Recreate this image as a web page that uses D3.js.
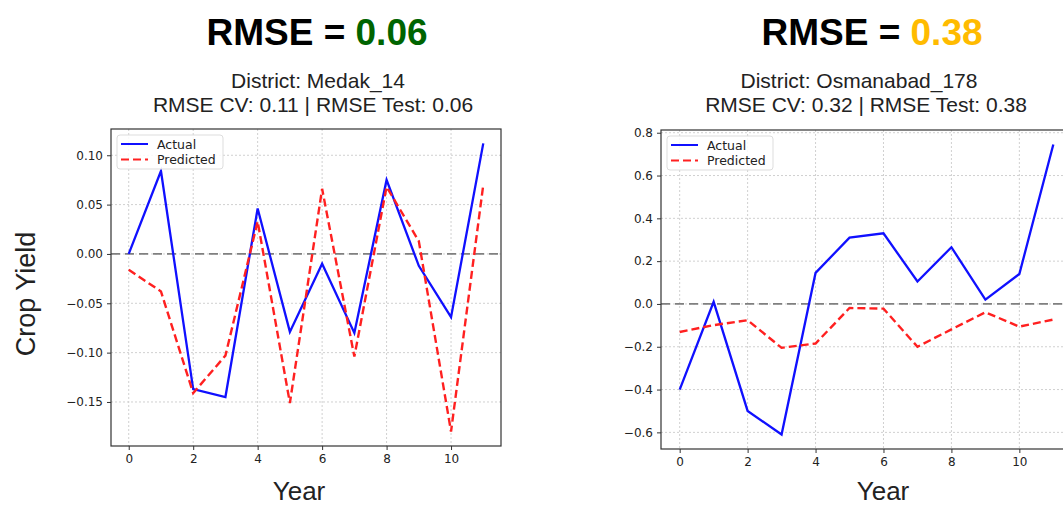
<!DOCTYPE html>
<html>
<head>
<meta charset="utf-8">
<title>RMSE comparison | D3</title>
<script src="https://d3js.org/d3.v7.min.js"></script>
<style>
  body { margin: 0; background: white; }
  svg { display: block; }
  .tick text { font-family: "DejaVu Sans", sans-serif; fill: #222; }
  .ttl { font-family: "Liberation Sans", Arial, sans-serif; }
</style>
</head>
<body>
<script>
// values
var years = [0, 1, 2, 3, 4, 5, 6, 7, 8, 9, 10, 11];
var xTicks = [0, 2, 4, 6, 8, 10];

var medakActual = [0.000, 0.084, -0.137, -0.145, 0.046, -0.079, -0.010, -0.080, 0.075, -0.012, -0.064, 0.112];
var medakPred   = [-0.016, -0.038, -0.141, -0.103, 0.033, -0.151, 0.066, -0.104, 0.068, 0.013, -0.180, 0.070];
var medakTicks  = [0.10, 0.05, 0.00, -0.05, -0.10, -0.15];

var osmActual = [-0.40, 0.01, -0.50, -0.61, 0.145, 0.31, 0.33, 0.105, 0.265, 0.02, 0.14, 0.745];
var osmPred   = [-0.131, -0.099, -0.076, -0.205, -0.185, -0.019, -0.022, -0.200, -0.119, -0.039, -0.106, -0.073];
var osmTicks  = [0.8, 0.6, 0.4, 0.2, 0.0, -0.2, -0.4, -0.6];

var width = 1063, height = 505;

var svg = d3.select("body").append("svg")
  .attr("width", width)
  .attr("height", height);

function panel(p) {
  var g = svg.append("g");

  var x = d3.scaleLinear().domain([-0.55, 11.55]).range([p.left, p.right]);
  var all = p.actual.concat(p.pred);
  var lo = d3.min(all), hi = d3.max(all), pad = (hi - lo) * 0.05;
  var y = d3.scaleLinear().domain([lo - pad, hi + pad]).range([p.bottom, p.top]);

  // clip so the right panel is cut at the page edge like the original
  var clipId = "clip" + p.id;
  svg.append("clipPath").attr("id", clipId).append("rect")
    .attr("x", p.left).attr("y", p.top)
    .attr("width", p.right - p.left).attr("height", p.bottom - p.top);

  var plot = g.append("g").attr("clip-path", "url(#" + clipId + ")");

  // grid
  plot.selectAll(".gx").data(xTicks).enter().append("line")
    .attr("x1", function(d){ return x(d); }).attr("x2", function(d){ return x(d); })
    .attr("y1", p.top).attr("y2", p.bottom)
    .attr("stroke", "#d0d0d0").attr("stroke-width", 1).attr("stroke-dasharray", "2,2");
  plot.selectAll(".gy").data(p.ticks).enter().append("line")
    .attr("y1", function(d){ return y(d); }).attr("y2", function(d){ return y(d); })
    .attr("x1", p.left).attr("x2", p.right)
    .attr("stroke", "#d0d0d0").attr("stroke-width", 1).attr("stroke-dasharray", "2,2");

  // zero line
  plot.append("line")
    .attr("x1", p.left).attr("x2", p.right)
    .attr("y1", y(0)).attr("y2", y(0))
    .attr("stroke", "#808080").attr("stroke-width", 1.8).attr("stroke-dasharray", "9,5");

  var line = d3.line()
    .x(function(d, i){ return x(years[i]); })
    .y(function(d){ return y(d); });

  plot.append("path").datum(p.actual)
    .attr("fill", "none").attr("stroke", "#1010ff").attr("stroke-width", 2.3)
    .attr("d", line);
  plot.append("path").datum(p.pred)
    .attr("fill", "none").attr("stroke", "#ff2020").attr("stroke-width", 2.4)
    .attr("stroke-dasharray", "8,4")
    .attr("d", line);

  // axes
  var xAxis = d3.axisBottom(x).tickValues(xTicks).tickSize(4).tickPadding(4)
    .tickFormat(d3.format("d"));
  var yAxis = d3.axisLeft(y).tickValues(p.ticks).tickSize(4).tickPadding(4)
    .tickFormat(function(d){ return d3.format(p.fmt)(d).replace("-", "\u2212"); });

  var gx = g.append("g").attr("transform", "translate(0," + p.bottom + ")").call(xAxis);
  var gy = g.append("g").attr("transform", "translate(" + p.left + ",0)").call(yAxis);
  [gx, gy].forEach(function(a){
    a.select(".domain").remove();
    a.selectAll(".tick line").attr("stroke", "#333");
    a.selectAll(".tick text").style("font-size", "12px");
  });

  // frame
  g.append("rect")
    .attr("x", p.left).attr("y", p.top)
    .attr("width", p.right - p.left).attr("height", p.bottom - p.top)
    .attr("fill", "none").attr("stroke", "#333").attr("stroke-width", 1.2);

  // legend
  var lg = g.append("g").attr("transform", "translate(" + (p.left + 6) + "," + (p.top + 6) + ")");
  lg.append("rect").attr("width", 106).attr("height", 34).attr("rx", 3)
    .attr("fill", "white").attr("fill-opacity", 0.85)
    .attr("stroke", "#ddd");
  var items = [["Actual", "#1010ff", null], ["Predicted", "#ff2020", "8,4"]];
  items.forEach(function(it, i){
    var yy = 9 + i * 15.5;
    lg.append("line").attr("x1", 4).attr("x2", 31).attr("y1", yy).attr("y2", yy)
      .attr("stroke", it[1]).attr("stroke-width", 2)
      .attr("stroke-dasharray", it[2]);
    lg.append("text").attr("x", 40).attr("y", yy + 4.5)
      .style("font-family", "DejaVu Sans, sans-serif").style("font-size", "12.5px")
      .attr("fill", "#222").text(it[0]);
  });

  // titles
  var t = svg.append("text").attr("class", "ttl")
    .attr("x", p.titleX).attr("y", 45).attr("text-anchor", "middle")
    .style("font-size", "37px").style("font-weight", "bold");
  t.append("tspan").attr("fill", "#000").text("RMSE = ");
  t.append("tspan").attr("fill", p.color).text(p.rmse);

  svg.append("text").attr("class", "ttl")
    .attr("x", p.sub1X).attr("y", 87.5).attr("text-anchor", "middle")
    .style("font-size", "21px").attr("fill", "#222")
    .text("District: " + p.name);
  svg.append("text").attr("class", "ttl")
    .attr("x", p.sub2X).attr("y", 111.5).attr("text-anchor", "middle")
    .style("font-size", "21px").attr("fill", "#222")
    .text("RMSE CV: " + p.cv + " | RMSE Test: " + p.rmse);

  svg.append("text").attr("class", "ttl")
    .attr("x", p.yearX).attr("y", 499.5).attr("text-anchor", "middle")
    .style("font-size", "26px").attr("fill", "#222")
    .text("Year");
}

panel({ id: 1, left: 111, right: 501, top: 129, bottom: 446,
  actual: medakActual, pred: medakPred, ticks: medakTicks, fmt: ".2f",
  name: "Medak_14", cv: "0.11", rmse: "0.06", color: "#006400",
  titleX: 317, sub1X: 318, sub2X: 313, yearX: 299 });

panel({ id: 2, left: 661, right: 1072, top: 130, bottom: 449,
  actual: osmActual, pred: osmPred, ticks: osmTicks, fmt: ".1f",
  name: "Osmanabad_178", cv: "0.32", rmse: "0.38", color: "#ffbb00",
  titleX: 872, sub1X: 859, sub2X: 866, yearX: 883 });

// shared y label
svg.append("text").attr("class", "ttl")
  .attr("transform", "translate(35,294) rotate(-90)")
  .attr("text-anchor", "middle")
  .style("font-size", "27px").attr("fill", "#222")
  .text("Crop Yield");
</script>
</body>
</html>
